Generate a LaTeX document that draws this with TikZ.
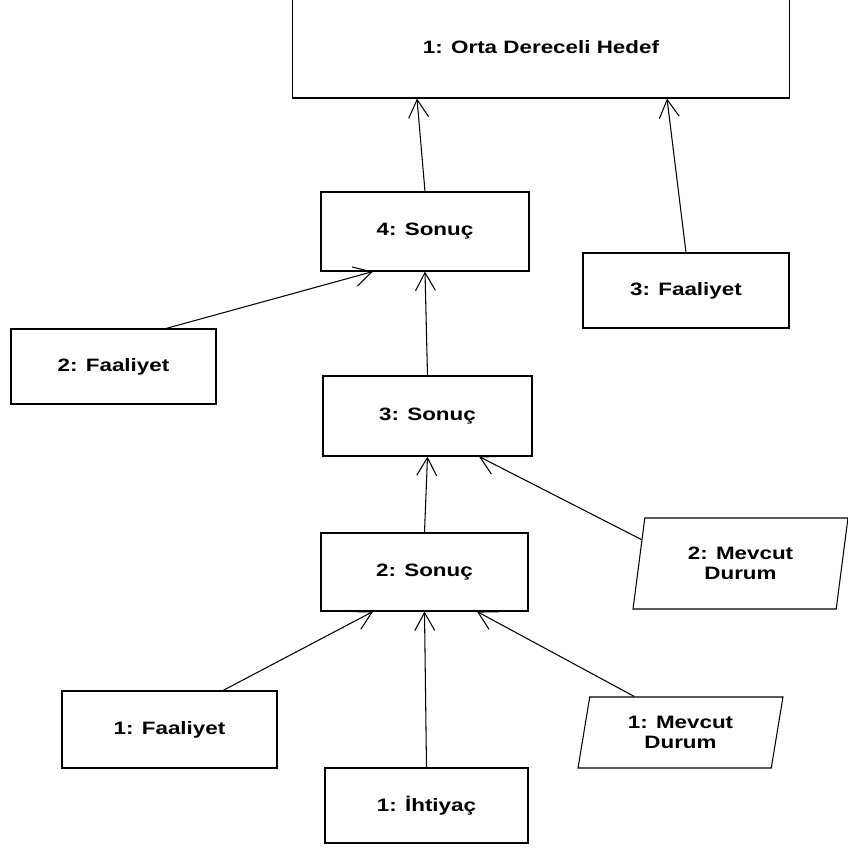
\documentclass[tikz,border=0pt]{standalone}
\usepackage{fontspec}
\setmainfont{Liberation Sans}[FakeStretch=1.25]
\usetikzlibrary{arrows.meta,shapes.geometric,calc}

\begin{document}
\begin{tikzpicture}[x=0.02cm, y=-0.02cm, line width=0.6pt,
  >={Straight Barb[length=0.36cm,width=0.4cm]},
  kutu/.style={draw, rectangle, inner sep=0pt, align=center,
    font=\fontsize{10.2}{11.2}\selectfont\bfseries},
  durum/.style={draw, trapezium, trapezium left angle=70,
    trapezium right angle=110, trapezium stretches body,
    inner sep=0pt, align=center,
    font=\fontsize{10.2}{11.2}\selectfont\bfseries}]
  \useasboundingbox (0,0) rectangle (848,850);

  % Draw the boxes
  \node[kutu, minimum width=9.96cm, minimum height=2.04cm] (hedef) at (541,47) {1: Orta Dereceli Hedef};
  \node[kutu, minimum width=4.16cm, minimum height=1.58cm] (s4) at (425,231.5) {4: Sonuç};
  \node[kutu, minimum width=4.12cm, minimum height=1.5cm] (f3) at (686,290.5) {3: Faaliyet};
  \node[kutu, minimum width=4.1cm, minimum height=1.5cm] (f2) at (113.5,366.5) {2: Faaliyet};
  \node[kutu, minimum width=4.18cm, minimum height=1.6cm] (s3) at (427.5,416) {3: Sonuç};
  \node[kutu, minimum width=4.14cm, minimum height=1.56cm] (s2) at (424.5,572) {2: Sonuç};
  \node[kutu, minimum width=4.3cm, minimum height=1.54cm] (f1) at (169.5,729.5) {1: Faaliyet};
  \node[kutu, minimum width=4.06cm, minimum height=1.5cm] (i1) at (426.5,805.5) {1: İhtiyaç};

  % current states
  \node[durum, minimum width=4.3cm, minimum height=1.82cm] (m2) at (740.5,563.5) {2: Mevcut\\Durum};
  \node[durum, minimum width=4.1cm, minimum height=1.42cm] (m1) at (680.5,732.5) {1: Mevcut\\Durum};

  % Draw the arrows
  \draw[->] (s4.north) -- ($(hedef.south)+(-124,0)$);
  \draw[->] (f3.north) -- ($(hedef.south)+(126,0)$);
  \draw[->] ($(f2.north)+(52.5,0)$) -- ($(s4.south)+(-52,0)$);
  \draw[->] (s3.north) -- (s4.south);
  \draw[->] (s2.north) -- (s3.south);
  \draw[->] ($(m2.top left corner)!0.24!(m2.bottom left corner)$) -- ($(s3.south)+(51.5,0)$);
  \draw[->] ($(f1.north)+(53.5,0)$) -- ($(s2.south)+(-51.5,0)$);
  \draw[->] (i1.north) -- (s2.south);
  \draw[->] ($(m1.top left corner)+(45,0)$) -- ($(s2.south)+(52.5,0)$);
\end{tikzpicture}
\end{document}
